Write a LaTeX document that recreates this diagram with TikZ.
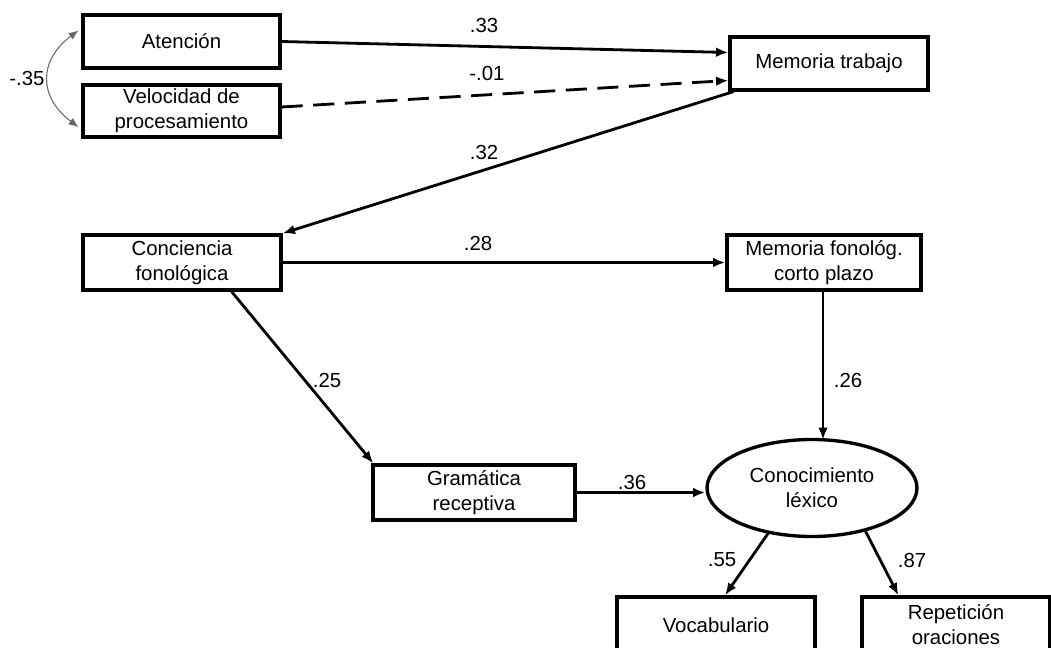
\documentclass[tikz,border=0pt]{standalone}
\usepackage{fontspec}
\setmainfont{Liberation Sans}
\usetikzlibrary{arrows.meta,calc,shapes.geometric}
\begin{document}
\begin{tikzpicture}[x=0.02cm,y=-0.02cm,
  font=\fontsize{11.6pt}{14.2pt}\selectfont,
  box/.style={draw,line width=1.9pt,inner sep=0pt,align=center},
  latent/.style={ellipse,draw,line width=1.9pt,inner sep=0pt,align=center,
    minimum width=4.2cm,minimum height=1.94cm},
  path/.style={line width=1.6pt,-{Latex[length=7pt,width=5.5pt]}},
  corr/.style={line width=0.6pt,draw=gray!80!black,
    {Latex[length=5.5pt,width=4.5pt]}-{Latex[length=5.5pt,width=4.5pt]}},
  coef/.style={inner sep=0pt}]
\clip (0,0) rectangle (1051,648);

% observed and latent variables
\node[box,minimum width=3.94cm,minimum height=1.06cm] (atn) at (181.5,41.5) {Atención};
\node[box,minimum width=3.94cm,minimum height=1.04cm] (vel) at (181.5,111) {Velocidad de\\procesamiento};
\node[box,minimum width=3.96cm,minimum height=1.06cm] (mt) at (829,63.5) {Memoria trabajo};
\node[box,minimum width=3.96cm,minimum height=1.1cm] (cf) at (182,262.5) {Conciencia\\fonológica};
\node[box,minimum width=3.88cm,minimum height=1.1cm] (mf) at (824,262.5) {Memoria fonológ.\\corto plazo};
\node[box,minimum width=4.04cm,minimum height=1.1cm] (gr) at (474,492.5) {Gramática\\receptiva};
\node[latent] (cl) at (812,488) {Conocimiento\\léxico};
\node[box,minimum width=3.96cm,minimum height=1.12cm] (voc) at (716,625) {Vocabulario};
\node[box,minimum width=3.76cm,minimum height=1.12cm] (rep) at (956,625) {Repetición\\oraciones};

% correlation between the two predictors
\draw[corr] ($(atn.west)+(-3,-11)$) .. controls ($(atn.west)+(-43,19)$) and ($(vel.west)+(-43,-14)$) .. ($(vel.west)+(-3,16)$);

% structural paths
\draw[path] (atn.east) -- ($(mt.west)+(0,-11)$);
\draw[path,dashed,dash pattern=on 12pt off 6pt] ($(vel.east)+(0,-4)$) -- ($(mt.west)+(0,17)$);
\draw[path] ($(mt.south west)+(5,0)$) -- (cf.north east);
\draw[path] (cf.east) -- (mf.west);
\draw[path] ($(cf.south east)+(-51,0)$) -- ($(gr.north west)+(2,0)$);
\draw[path] (gr.east) -- (cl.west |- gr.east);
\draw[path] (mf.south -| 823,0) -- (823,439.8);
\draw[path] (cl.226) -- ($(voc.north)+(9,0)$);
\draw[path] (cl.321) -- ($(rep.north west)+(38,0)$);

% path coefficients
\node[coef] (c1) at (27,78) {-.35};
\node[coef] (c2) at (484,25) {.33};
\node[coef] (c3) at (487,73) {-.01};
\node[coef] (c4) at (484,152) {.32};
\node[coef] (c5) at (478,243) {.28};
\node[coef] (c6) at (327,380) {.25};
\node[coef] (c7) at (848,380) {.26};
\node[coef] (c8) at (632,482) {.36};
\node[coef] (c9) at (722,560) {.55};
\node[coef] (c10) at (912,560) {.87};
\end{tikzpicture}
\end{document}
